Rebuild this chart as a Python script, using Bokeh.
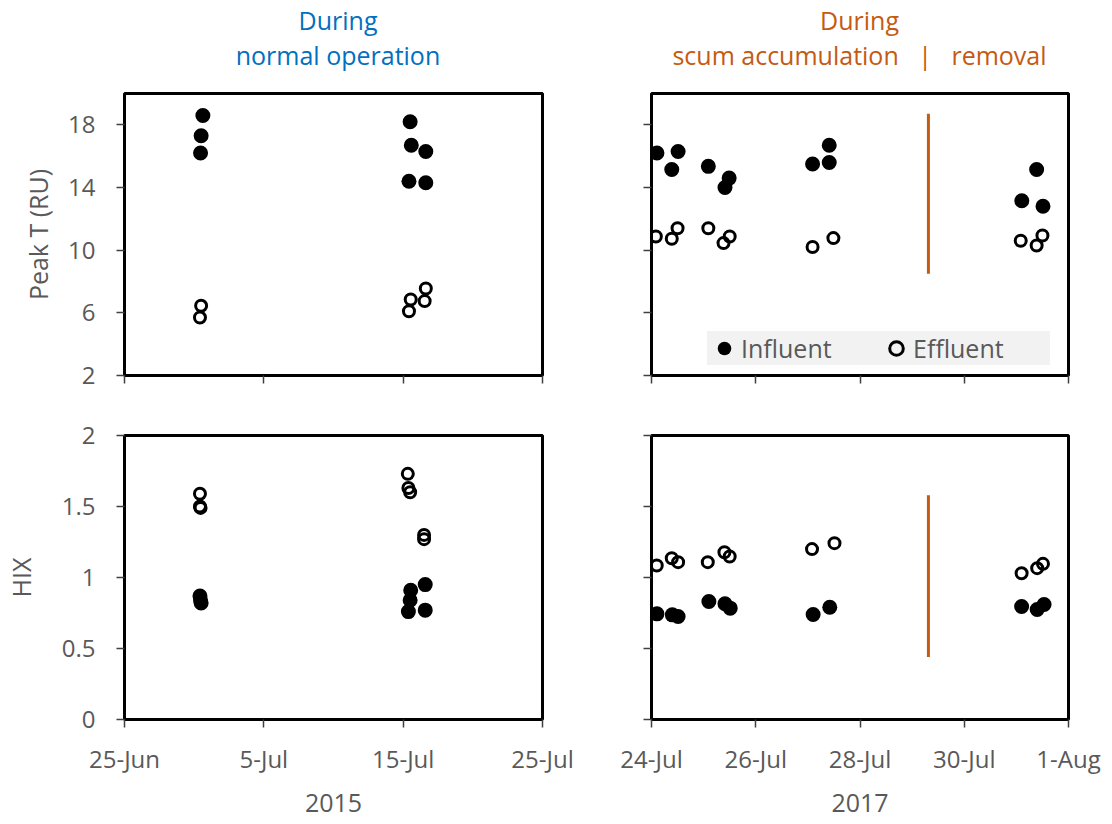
import pandas as pd
from bokeh.plotting import figure
from bokeh.models import (Range1d, FixedTicker, CustomJSTickFormatter, Div,
                          Legend, LegendItem)
from bokeh.layouts import column, row
from bokeh.embed import file_html
from bokeh.resources import INLINE

FONT = "Open Sans"
GREY = "#595959"
BLUE = "#0070C0"
ORANGE = "#C55A11"

# ---------------- data: 2015, normal operation ----------------
t15_inf_dates = ["2015-06-30 15:00", "2015-06-30 12:00", "2015-06-30 11:00",
                 "2015-07-15 12:00", "2015-07-15 14:00", "2015-07-16 15:00",
                 "2015-07-15 10:00", "2015-07-16 15:00"]
t15_inf_vals = [18.6, 17.3, 16.2, 18.2, 16.7, 16.3, 14.4, 14.3]
t15_eff_dates = ["2015-06-30 12:00", "2015-06-30 10:00", "2015-07-16 15:00",
                 "2015-07-15 13:00", "2015-07-16 13:00", "2015-07-15 10:00"]
t15_eff_vals = [6.45, 5.7, 7.55, 6.85, 6.75, 6.1]

h15_inf_dates = ["2015-06-30 10:00", "2015-06-30 11:00", "2015-06-30 12:00",
                 "2015-07-15 13:00", "2015-07-16 14:00", "2015-07-15 12:00",
                 "2015-07-15 09:00", "2015-07-16 14:00"]
h15_inf_vals = [0.87, 0.84, 0.82, 0.91, 0.95, 0.84, 0.76, 0.77]
h15_eff_dates = ["2015-06-30 10:00", "2015-06-30 10:00", "2015-06-30 11:00",
                 "2015-07-15 08:00", "2015-07-15 09:00", "2015-07-15 12:00",
                 "2015-07-16 12:00", "2015-07-16 12:00"]
h15_eff_vals = [1.59, 1.50, 1.49, 1.73, 1.63, 1.60, 1.30, 1.27]

# ---------------- data: 2017, scum accumulation / removal ----------------
t17_inf_dates = ["2017-07-24 02:30", "2017-07-24 12:15", "2017-07-24 09:20",
                 "2017-07-25 02:10", "2017-07-25 11:45", "2017-07-25 09:50",
                 "2017-07-27 02:10", "2017-07-27 09:50", "2017-07-27 09:50",
                 "2017-07-31 09:20", "2017-07-31 02:30", "2017-07-31 12:15"]
t17_inf_vals = [16.2, 16.3, 15.15, 15.35, 14.6, 14.0, 15.5, 15.6, 16.7,
                15.15, 13.15, 12.8]
t17_eff_dates = ["2017-07-24 02:00", "2017-07-24 09:20", "2017-07-24 12:00",
                 "2017-07-25 02:10", "2017-07-25 09:10", "2017-07-25 12:00",
                 "2017-07-27 02:10", "2017-07-27 11:45", "2017-07-31 02:00",
                 "2017-07-31 09:20", "2017-07-31 12:00"]
t17_eff_vals = [10.87, 10.73, 11.4, 11.4, 10.45, 10.87, 10.2, 10.77, 10.6,
                10.3, 10.94]

h17_inf_dates = ["2017-07-24 02:30", "2017-07-24 09:35", "2017-07-24 12:15",
                 "2017-07-25 02:25", "2017-07-25 09:50", "2017-07-25 12:15",
                 "2017-07-27 02:25", "2017-07-27 10:05", "2017-07-31 02:25",
                 "2017-07-31 09:35", "2017-07-31 12:45"]
h17_inf_vals = [0.744, 0.737, 0.725, 0.831, 0.815, 0.784, 0.739, 0.791,
                0.796, 0.775, 0.81]
h17_eff_dates = ["2017-07-24 02:25", "2017-07-24 09:20", "2017-07-24 12:15",
                 "2017-07-25 01:55", "2017-07-25 09:35", "2017-07-25 12:00",
                 "2017-07-27 01:55", "2017-07-27 12:15", "2017-07-31 02:25",
                 "2017-07-31 09:35", "2017-07-31 12:15"]
h17_eff_vals = [1.085, 1.136, 1.108, 1.108, 1.178, 1.148, 1.20, 1.242, 1.03,
                1.066, 1.096]

# scum removal marker (2017)
removal_date = "2017-07-29 07:30"
removal_T = [8.5, 18.7]
removal_HIX = [0.44, 1.58]

# ---------------- axes / headings ----------------
x15_ticks = ["2015-06-25", "2015-07-05", "2015-07-15", "2015-07-25"]
x15_labels = ["25-Jun", "5-Jul", "15-Jul", "25-Jul"]
x17_ticks = ["2017-07-24", "2017-07-26", "2017-07-28", "2017-07-30", "2017-08-01"]
x17_labels = ["24-Jul", "26-Jul", "28-Jul", "30-Jul", "1-Aug"]
peak_ticks = [2, 6, 10, 14, 18]
peak_range = [2, 20]
hix_ticks = [0, 0.5, 1, 1.5, 2]
hix_range = [0, 2]
head_2015 = ["During", "normal operation"]
head_2017 = ["During", "scum accumulation", "|", "removal"]


def ms(s):
    return pd.Timestamp(s).value / 1e6


def msl(lst):
    return [ms(s) for s in lst]


LEFT_W, RIGHT_W = 591, 517
HEAD_H = 80
TOP_H, BOT_H = 325, 418


def make_fig(is_left, is_top, xt, xl, yt, yr):
    w = LEFT_W if is_left else RIGHT_W
    h = TOP_H if is_top else BOT_H
    p = figure(width=w, height=h, x_axis_type="datetime",
               x_range=Range1d(ms(xt[0]), ms(xt[-1])),
               y_range=Range1d(yr[0], yr[1]),
               min_border_left=124 if is_left else 60,
               min_border_right=49 if is_left else 40,
               min_border_top=13 if is_top else 30,
               min_border_bottom=30 if is_top else 104,
               output_backend="svg", toolbar_location=None,
               title_location=None)
    p.xgrid.visible = False
    p.ygrid.visible = False
    p.outline_line_color = "black"
    p.outline_line_width = 3
    p.outline_line_alpha = 1
    p.background_fill_color = "white"
    p.border_fill_color = "white"
    xa, ya = p.xaxis[0], p.yaxis[0]
    xa.ticker = FixedTicker(ticks=msl(xt), minor_ticks=[])
    ya.ticker = FixedTicker(ticks=yt, minor_ticks=[])
    for ax in (xa, ya):
        ax.axis_line_color = None
        ax.major_tick_in = 0
        ax.major_tick_out = 8
        ax.major_tick_line_color = "#404040"
        ax.major_tick_line_width = 1.5
        ax.minor_tick_line_color = None
        ax.major_label_text_font = FONT
        ax.major_label_text_font_size = "24px"
        ax.major_label_text_color = GREY
        ax.axis_label_text_font = FONT
        ax.axis_label_text_font_size = "25px"
        ax.axis_label_text_font_style = "normal"
        ax.axis_label_text_color = GREY
    if is_top:
        xa.formatter = CustomJSTickFormatter(code="return '';")
        xa.major_label_standoff = 2
    else:
        xa.formatter = CustomJSTickFormatter(
            args=dict(tvals=msl(xt), tlabels=xl),
            code="const i = tvals.indexOf(tick); return i < 0 ? '' : tlabels[i];")
        xa.major_label_standoff = 14
        xa.axis_label_standoff = 16
    if is_left:
        ya.formatter = CustomJSTickFormatter(code="return tick.toString();")
        ya.major_label_standoff = 21
    else:
        ya.formatter = CustomJSTickFormatter(code="return '';")
        ya.major_label_standoff = 2
    return p


def add_points(p, inf_d, inf_v, eff_d, eff_v):
    r_inf = p.scatter(x=msl(inf_d), y=inf_v, marker="circle", size=15,
                      fill_color="black", line_color=None)
    r_eff = p.scatter(x=msl(eff_d), y=eff_v, marker="circle", size=11,
                      fill_color=None, line_color="black", line_width=3)
    return r_inf, r_eff


def heading(width, frame_left, frame_w, color, html):
    style = ("margin-left:%dpx;width:%dpx;padding-top:3px;text-align:center;"
             "white-space:nowrap;font-family:'Open Sans';font-size:25px;"
             "line-height:35px;color:%s;" % (frame_left, frame_w, color))
    return Div(text="<div style=\"%s\">%s</div>" % (style, html),
               width=width, height=HEAD_H, margin=0)


nb = "&nbsp;&nbsp;&nbsp;"
hdr_l = heading(LEFT_W, 129, 418, BLUE,
                "%s<br>%s" % (head_2015[0], head_2015[1]))
hdr_r = heading(RIGHT_W, 60, 417, ORANGE,
                "%s<br>%s%s%s%s%s" % (head_2017[0], head_2017[1], nb,
                                      head_2017[2], nb, head_2017[3]))

# ---- top-left: Peak T 2015 ----
p_tl = make_fig(True, True, x15_ticks, x15_labels, peak_ticks, peak_range)
p_tl.yaxis.axis_label = "Peak T (RU)"
p_tl.yaxis.axis_label_standoff = 10
add_points(p_tl, t15_inf_dates, t15_inf_vals, t15_eff_dates, t15_eff_vals)

# ---- top-right: Peak T 2017 ----
p_tr = make_fig(False, True, x17_ticks, x17_labels, peak_ticks, peak_range)
p_tr.segment(x0=[ms(removal_date)], y0=[removal_T[0]],
             x1=[ms(removal_date)], y1=[removal_T[1]],
             line_color=ORANGE, line_width=3)
r_inf, r_eff = add_points(p_tr, t17_inf_dates, t17_inf_vals,
                          t17_eff_dates, t17_eff_vals)
legend = Legend(items=[LegendItem(label="Influent", renderers=[r_inf]),
                       LegendItem(label="Effluent", renderers=[r_eff])],
                location=(56, 10), orientation="horizontal",
                background_fill_color="#F2F2F2", background_fill_alpha=1,
                border_line_color=None, padding=3, spacing=1,
                glyph_width=34, glyph_height=34, label_standoff=0,
                label_width=137, label_text_font=FONT,
                label_text_font_size="25px", label_text_color=GREY,
                margin=0)
p_tr.add_layout(legend)

# ---- bottom-left: HIX 2015 ----
p_bl = make_fig(True, False, x15_ticks, x15_labels, hix_ticks, hix_range)
p_bl.yaxis.axis_label = "HIX"
p_bl.yaxis.axis_label_standoff = 21
p_bl.xaxis.axis_label = "2015"
add_points(p_bl, h15_inf_dates, h15_inf_vals, h15_eff_dates, h15_eff_vals)

# ---- bottom-right: HIX 2017 ----
p_br = make_fig(False, False, x17_ticks, x17_labels, hix_ticks, hix_range)
p_br.xaxis.axis_label = "2017"
p_br.segment(x0=[ms(removal_date)], y0=[removal_HIX[0]],
             x1=[ms(removal_date)], y1=[removal_HIX[1]],
             line_color=ORANGE, line_width=3)
add_points(p_br, h17_inf_dates, h17_inf_vals, h17_eff_dates, h17_eff_vals)

layout = column(row(hdr_l, hdr_r), row(p_tl, p_tr), row(p_bl, p_br))
open("out.html", "w").write(file_html(layout, INLINE))
